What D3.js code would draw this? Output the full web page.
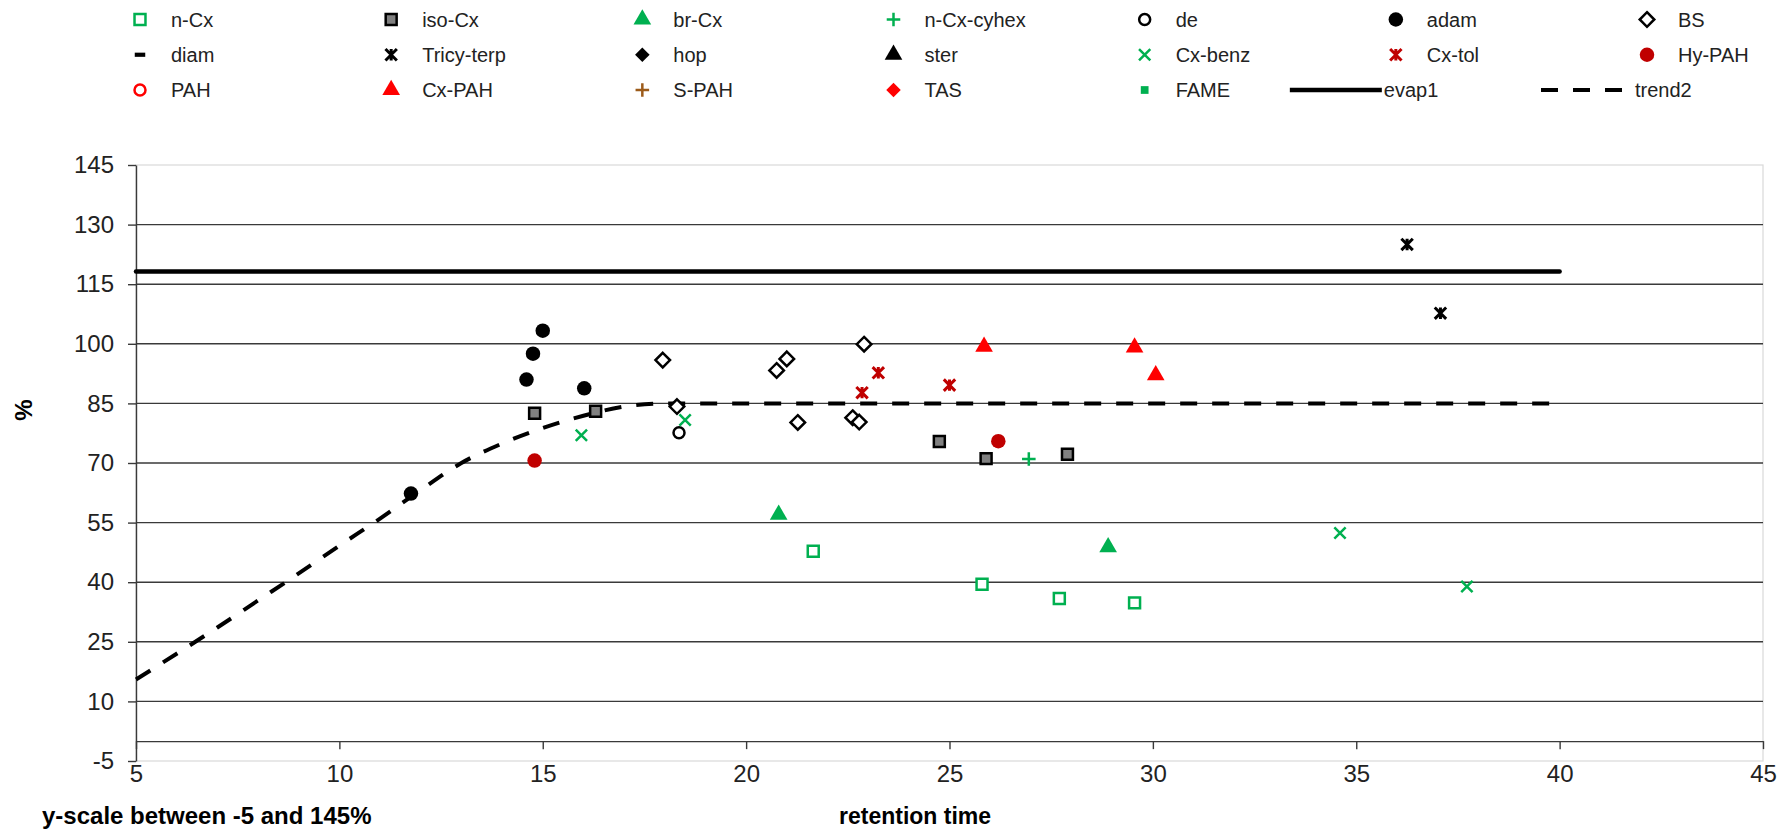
<!DOCTYPE html>
<html>
<head>
<meta charset="utf-8">
<script src="https://cdn.jsdelivr.net/npm/d3@7"></script>
<style>
body { margin: 0; background: #fff; }
svg { display: block; font-family: "Liberation Sans", Arial, sans-serif; }
</style>
</head>
<body>
<svg id="chart" width="1789" height="829"></svg>
<script>
(function() {

"use strict";

const X_TICKS = [5, 10, 15, 20, 25, 30, 35, 40, 45];
const Y_TICKS = [-5, 10, 25, 40, 55, 70, 85, 100, 115, 130, 145];
const GRID = [10, 25, 40, 55, 70, 85, 100, 115, 130];

// [retention time, %]
const N_CX       = [[21.65, 47.8], [25.8, 39.5], [27.7, 35.9], [29.55, 34.8]];
const ISO_CX     = [[14.8, 82.5], [16.3, 83.0], [24.75, 75.4], [25.9, 71.1], [27.9, 72.2]];
const BR_CX      = [[20.8, 57.0], [28.9, 48.8]];
const N_CX_CYHEX = [[26.95, 71.0]];
const DE         = [[18.35, 77.6]];
const ADAM       = [[11.76, 62.3], [14.6, 91.0], [14.76, 97.5], [15.0, 103.3], [16.02, 88.8]];
const BS         = [[17.95, 95.9], [18.3, 84.2], [20.75, 93.3], [21.0, 96.2], [21.27, 80.2], [22.62, 81.4], [22.78, 80.3], [22.9, 99.9]];
const DIAM       = [];
const TRICY_TERP = [[36.25, 125.0], [37.07, 107.7]];
const HOP        = [];
const STER       = [];
const CX_BENZ    = [[15.95, 77.0], [18.5, 80.8], [34.6, 52.4], [37.72, 38.9]];
const CX_TOL     = [[22.85, 87.7], [23.25, 92.7], [25.0, 89.6]];
const HY_PAH     = [[14.8, 70.6], [26.2, 75.5]];
const PAH        = [];
const CX_PAH     = [[25.85, 99.3], [29.55, 99.1], [30.07, 92.1]];
const S_PAH      = [];
const TAS        = [];
const FAME       = [];
const EVAP1      = [[5, 118.2], [40, 118.2]];
const TREND2     = [[5, 15.5], [6, 22], [7, 28.6], [8, 35.4], [9, 42.2], [10, 49.2], [11, 56], [12, 63.2],
                    [13, 70], [14, 74.9], [15, 78.8], [16, 81.9], [17, 84.2], [18, 85], [40, 85]];

const GREEN = "#00b050", DARKRED = "#c00000", RED = "#ff0000", BROWN = "#9c5b1a";

// star marker: X with vertical bar
const symbolStar = {
	draw(ctx, size) {
		let r = Math.sqrt(size) / 2;
		ctx.moveTo(-r, -r); ctx.lineTo(r, r);
		ctx.moveTo(-r, r); ctx.lineTo(r, -r);
		ctx.moveTo(0, -r); ctx.lineTo(0, r);
	}
};
const symbolDash = {
	draw(ctx, size) {
		let w = Math.sqrt(size);
		ctx.rect(-w / 2, -w / 5, w, w * 2 / 5);
	}
};

const SHAPES = {
	square:   {type: d3.symbolSquare,   size: 120},
	circle:   {type: d3.symbolCircle,   size: 165},
	ring:     {type: d3.symbolCircle,   size: 95},
	triangle: {type: d3.symbolTriangle, size: 135},
	diamond:  {type: d3.symbolDiamond2, size: 135},
	plus:     {type: d3.symbolPlus,     size: 62},
	times:    {type: d3.symbolTimes,    size: 85},
	star:     {type: symbolStar,        size: 130},
	dash:     {type: symbolDash,        size: 110},
};

const SERIES = [
	{name: "n-Cx",       data: N_CX,       shape: "square",   stroke: GREEN,   fill: "#fff"},
	{name: "iso-Cx",     data: ISO_CX,     shape: "square",   stroke: "#000",  fill: "#808080"},
	{name: "br-Cx",      data: BR_CX,      shape: "triangle", stroke: null,    fill: GREEN},
	{name: "n-Cx-cyhex", data: N_CX_CYHEX, shape: "plus",     stroke: GREEN,   fill: "none"},
	{name: "de",         data: DE,         shape: "ring",     stroke: "#000",  fill: "#fff"},
	{name: "adam",       data: ADAM,       shape: "circle",   stroke: null,    fill: "#000"},
	{name: "BS",         data: BS,         shape: "diamond",  stroke: "#000",  fill: "#fff"},
	{name: "diam",       data: DIAM,       shape: "dash",     stroke: null,    fill: "#000"},
	{name: "Tricy-terp", data: TRICY_TERP, shape: "star",     stroke: "#000",  fill: "none"},
	{name: "hop",        data: HOP,        shape: "diamond",  stroke: null,    fill: "#000"},
	{name: "ster",       data: STER,       shape: "triangle", stroke: null,    fill: "#000"},
	{name: "Cx-benz",    data: CX_BENZ,    shape: "times",    stroke: GREEN,   fill: "none"},
	{name: "Cx-tol",     data: CX_TOL,     shape: "star",     stroke: DARKRED, fill: "none"},
	{name: "Hy-PAH",     data: HY_PAH,     shape: "circle",   stroke: null,    fill: DARKRED},
	{name: "PAH",        data: PAH,        shape: "ring",     stroke: RED,     fill: "#fff"},
	{name: "Cx-PAH",     data: CX_PAH,     shape: "triangle", stroke: null,    fill: RED},
	{name: "S-PAH",      data: S_PAH,      shape: "plus",     stroke: BROWN,   fill: "none"},
	{name: "TAS",        data: TAS,        shape: "diamond",  stroke: null,    fill: RED},
	{name: "FAME",       data: FAME,       shape: "square",   stroke: null,    fill: GREEN, size: 60},
	{name: "evap1",      data: EVAP1,      line: "solid"},
	{name: "trend2",     data: TREND2,     line: "dash"},
];

const width = 1789, height = 829;
const margin = {top: 165, right: 26, bottom: 68, left: 136};

let svg = d3.select("#chart");

let x = d3.scaleLinear().domain([5, 45]).range([margin.left, width - margin.right]);
let y = d3.scaleLinear().domain([-5, 145]).range([height - margin.bottom, margin.top]);

// plot area border
svg.append("rect")
	.attr("x", x(5)).attr("y", y(145))
	.attr("width", x(45) - x(5)).attr("height", y(-5) - y(145))
	.attr("fill", "none").attr("stroke", "#d9d9d9").attr("stroke-width", 1.2);

// gridlines
svg.append("g").attr("class", "grid")
	.selectAll("line").data(GRID).join("line")
	.attr("x1", x(5)).attr("x2", x(45))
	.attr("y1", d => y(d)).attr("y2", d => y(d))
	.attr("stroke", "#3a3a3a").attr("stroke-width", 1.4);

// y axis
let yAxis = svg.append("g")
	.attr("transform", `translate(${x(5)},0)`)
	.call(d3.axisLeft(y).tickValues(Y_TICKS).tickFormat(d => String(d))
		.tickSize(8).tickSizeOuter(0).tickPadding(14));

// x axis on y = 0, labels pushed below the plot
let xAxis = svg.append("g")
	.attr("transform", `translate(0,${y(0)})`)
	.call(d3.axisBottom(x).tickValues(X_TICKS).tickFormat(d => String(d))
		.tickSize(8).tickSizeOuter(0).tickPadding(16));

[yAxis, xAxis].forEach(g => {
	g.select(".domain").attr("stroke", "#3a3a3a").attr("stroke-width", 1.4);
	g.selectAll(".tick line").attr("stroke", "#3a3a3a").attr("stroke-width", 1.4);
	g.selectAll(".tick text").attr("fill", "#222").attr("font-size", 24)
		.attr("font-family", "\"Liberation Sans\", Arial, sans-serif");
});

// lines
let lineGen = d3.line().x(d => x(d[0])).y(d => y(d[1])).curve(d3.curveMonotoneX);

SERIES.filter(s => s.line).forEach(s => {
	svg.append("path")
		.datum(s.data)
		.attr("d", lineGen)
		.attr("fill", "none")
		.attr("stroke", "#000")
		.attr("stroke-width", s.line === "dash" ? 4 : 4.5)
		.attr("stroke-linecap", s.line === "dash" ? "butt" : "round")
		.attr("stroke-dasharray", s.line === "dash" ? "17,15" : null);
});

function symbolPath(s) {
	let sh = SHAPES[s.shape];
	return d3.symbol().type(sh.type).size(s.size || sh.size)();
}

function styleMarker(sel, s) {
	sel.attr("d", symbolPath(s))
		.attr("fill", s.fill)
		.attr("stroke", s.stroke || "none")
		.attr("stroke-width", s.stroke ? (s.shape === "star" ? 3 : 2.5) : 0);
}

// markers
SERIES.filter(s => !s.line).forEach(s => {
	svg.append("g")
		.selectAll("path").data(s.data).join("path")
		.attr("transform", d => `translate(${x(d[0])},${y(d[1])})`)
		.call(styleMarker, s);
});

// legend: 7 columns x 3 rows
let col = d3.scalePoint().domain(d3.range(7)).range([140, 1647]);
let row = d3.scalePoint().domain(d3.range(3)).range([19.5, 90]);

let legend = svg.append("g").attr("class", "legend");
SERIES.forEach((s, i) => {
	let cx = col(i % 7), cy = row(Math.floor(i / 7));
	let item = legend.append("g");
	let tx = cx + 31;
	if (s.line) {
		item.append("line")
			.attr("x1", cx - 106).attr("x2", cx - 14)
			.attr("y1", cy).attr("y2", cy)
			.attr("stroke", "#000")
			.attr("stroke-width", s.line === "dash" ? 4 : 4.5)
			.attr("stroke-dasharray", s.line === "dash" ? "17,15" : null);
		tx = cx - 12;
	} else {
		item.append("path")
			.attr("transform", `translate(${cx},${cy})`)
			.call(styleMarker, s);
	}
	item.append("text")
		.attr("x", tx).attr("y", cy)
		.attr("dominant-baseline", "central")
		.attr("font-size", 20).attr("fill", "#222")
		.text(s.name);
});

// axis titles
svg.append("text")
	.attr("transform", "translate(23,410) rotate(-90)")
	.attr("text-anchor", "middle").attr("dominant-baseline", "central")
	.attr("font-size", 24).attr("font-weight", "bold")
	.text("%");

svg.append("text")
	.attr("x", 42).attr("y", 824)
	.attr("font-size", 24).attr("font-weight", "bold")
	.text("y-scale between -5 and 145%");

svg.append("text")
	.attr("x", 839).attr("y", 824)
	.attr("font-size", 23).attr("font-weight", "bold")
	.text("retention time");

})();
</script>
</body>
</html>
